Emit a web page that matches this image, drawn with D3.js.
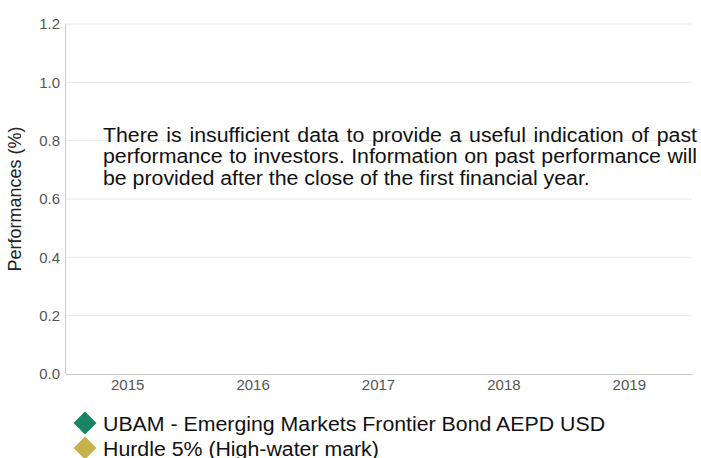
<!DOCTYPE html>
<html>
<head>
<meta charset="utf-8">
<script src="https://cdn.jsdelivr.net/npm/d3@7"></script>
<style>
  body { margin: 0; background: #fff; }
  svg { font-family: "Liberation Sans", Arial, sans-serif; }
</style>
</head>
<body>
<svg width="701" height="458"></svg>
<script>
var years = ["2015", "2016", "2017", "2018", "2019"];
var yTicks = [0, 0.2, 0.4, 0.6, 0.8, 1.0, 1.2];
var seriesNames = ["UBAM - Emerging Markets Frontier Bond AEPD USD", "Hurdle 5% (High-water mark)"];
var seriesColors = ["#178562", "#c5b44c"];
var message = [
	"There is insufficient data to provide a useful indication of past",
	"performance to investors. Information on past performance will",
	"be provided after the close of the first financial year."
];

var plot = {x: 65, y: 24, w: 627, h: 350};
var stretch = 1.066;   // the source font is a bit wider than Liberation Sans
var svg = d3.select("svg");

var xScale = d3.scaleBand()
				.domain(years)
				.range([plot.x, plot.x + plot.w]);
var yScale = d3.scaleLinear()
				.domain([0, 1.2])
				.range([plot.y + plot.h, plot.y]);

// grid lines
svg.append("g")
	.selectAll("line")
	.data(yTicks.slice(1))
	.enter().append("line")
	.attr("x1", plot.x)
	.attr("x2", plot.x + plot.w)
	.attr("y1", function(d){ return yScale(d); })
	.attr("y2", function(d){ return yScale(d); })
	.attr("stroke", "#e8e8e8")
	.attr("stroke-width", 1);

// y axis
var yAxis = svg.append("g")
	.attr("transform", "translate(" + plot.x + ",0)")
	.call(d3.axisLeft(yScale).tickValues(yTicks).tickFormat(d3.format(".1f")).tickSize(0).tickPadding(5));
yAxis.attr("font-size", 15).attr("font-family", "Liberation Sans, Arial, sans-serif");
yAxis.select(".domain").attr("stroke", "#c8c8c8");
yAxis.selectAll("text").attr("fill", "#555");

// x axis
var xAxis = svg.append("g")
	.attr("transform", "translate(0," + (plot.y + plot.h) + ")")
	.call(d3.axisBottom(xScale).tickSize(0).tickPadding(5));
xAxis.attr("font-size", 15).attr("font-family", "Liberation Sans, Arial, sans-serif");
xAxis.select(".domain").attr("stroke", "#c8c8c8");
xAxis.selectAll("text").attr("fill", "#555");

// y title
svg.append("text")
	.attr("transform", "translate(21," + (plot.y + plot.h / 2) + ") rotate(-90)")
	.attr("text-anchor", "middle")
	.attr("font-size", 18)
	.attr("fill", "#222")
	.text("Performances (%)");

// no-data message, first two lines justified
var msgWidth = 594;
var msg = svg.append("g")
	.attr("transform", "translate(103,0) scale(" + stretch + ",1)");
msg.selectAll("text")
	.data(message)
	.enter().append("text")
	.attr("x", 0)
	.attr("y", function(d, i){ return 142 + i * 21.5; })
	.attr("font-size", 20)
	.attr("fill", "#111")
	.text(function(d){ return d; })
	.each(function(d, i){
		if (i == message.length - 1) return;
		var natural = this.getComputedTextLength();
		var spaces = d.split(" ").length - 1;
		var extra = (msgWidth / stretch - natural) / spaces;
		if (extra > 0) d3.select(this).attr("word-spacing", extra);
	});

// legend
var legend = svg.append("g")
	.selectAll("g")
	.data(seriesNames)
	.enter().append("g")
	.attr("transform", function(d, i){ return "translate(85," + (423 + i * 25) + ")"; });
legend.append("path")
	.attr("d", d3.symbol().type(d3.symbolSquare).size(265))
	.attr("transform", "rotate(45)")
	.attr("fill", function(d, i){ return seriesColors[i]; });
legend.append("text")
	.attr("transform", "translate(18,7.5) scale(" + stretch + ",1)")
	.attr("font-size", 20)
	.attr("fill", "#111")
	.text(function(d){ return d; });
</script>
</body>
</html>
